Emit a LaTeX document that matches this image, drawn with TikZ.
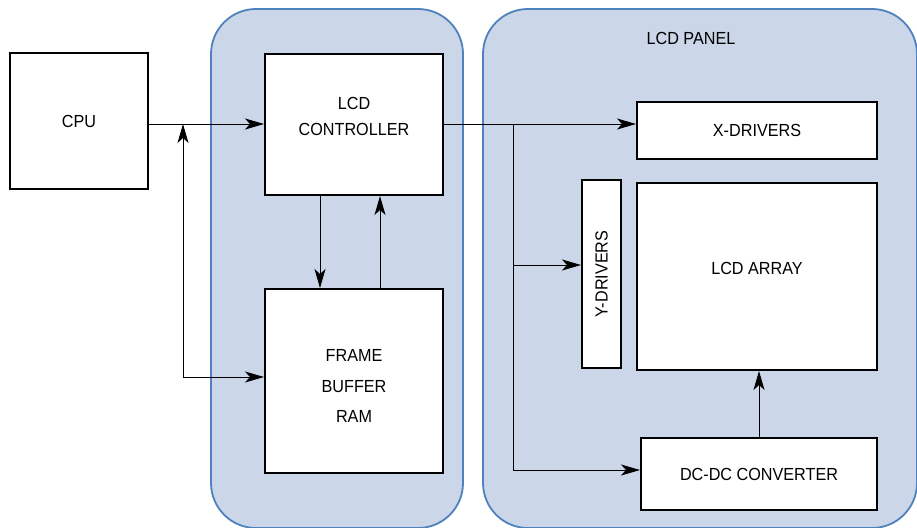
\documentclass[tikz,border=0pt]{standalone}
\usepackage{fontspec}
\setmainfont[FakeStretch=0.925]{Liberation Sans}
\usepackage{tikz}
\usetikzlibrary{arrows.meta}
\definecolor{cPanel}{RGB}{203,214,232}
\definecolor{cEdge}{RGB}{79,129,189}

\tikzset{
  blk/.style={draw=black,line width=2pt,fill=white,inner sep=0pt,font=\fontsize{17.5}{26}\selectfont},
  grp/.style={draw=cEdge,line width=1.8pt,fill=cPanel,rounded corners=45pt},
  lnk/.style={-{Stealth[length=19pt,width=11pt,inset=5pt]},line width=0.9pt},
}

\begin{document}
\begin{tikzpicture}[x=1pt,y=-1pt]
\useasboundingbox (0,0) rectangle (917,527);
\clip (0,0) rectangle (917,527);
% panels
\draw[grp] (211,9) rectangle (463,528);
\draw[grp] (483,9) rectangle (917,528);
\node[font=\fontsize{17.5}{20}\selectfont] (lbl) at (691,38) {LCD PANEL};
% blocks
\node[blk,minimum width=138pt,minimum height=136pt] (cpu) at (79,121) {CPU};
\node[blk,minimum width=178pt,minimum height=141pt] (ctrl) at (354,124.5) {\raisebox{3pt}[0pt][0pt]{\begin{tabular}{@{}c@{}}LCD\\CONTROLLER\end{tabular}}};
\node[blk,minimum width=178pt,minimum height=184pt,font=\fontsize{17.5}{30.5}\selectfont] (fb) at (354,381) {\raisebox{-9.5pt}[0pt][0pt]{\begin{tabular}{@{}c@{}}FRAME\\BUFFER\\RAM\end{tabular}}};
\node[blk,minimum width=240pt,minimum height=57pt] (xdrv) at (757,130.5) {X-DRIVERS};
\node[blk,minimum width=39pt,minimum height=188pt] (ydrv) at (601.5,274) {\raisebox{-6pt}{\rotatebox{90}{Y-DRIVERS}}};
\node[blk,minimum width=240pt,minimum height=187pt] (lcdarr) at (757,276.5) {\raisebox{16pt}{LCD ARRAY}};
\node[blk,minimum width=236pt,minimum height=72pt] (dcdc) at (759,474) {DC-DC CONVERTER};
% junctions
\coordinate (j1) at (183,124);
\coordinate (j2) at (513,124);
% links
\draw[lnk] (cpu.east |- j1) -- (ctrl.west |- j1);
\draw[{Stealth[length=19pt,width=11pt,inset=5pt]}-{Stealth[length=19pt,width=11pt,inset=5pt]},line width=0.9pt] (j1) |- ([yshift=4pt]fb.west);
\draw[lnk] ([xshift=-34pt]ctrl.south) -- ([xshift=-34pt]fb.north);
\draw[lnk] ([xshift=26pt]fb.north) -- ([xshift=26pt]ctrl.south);
\draw[lnk] (ctrl.east |- j2) -- (xdrv.west |- j2);
\draw[lnk] (j2) |- ([yshift=4pt]dcdc.west);
\draw[lnk] (j2 |- 0,265) -- (ydrv.west |- 0,265);
\draw[lnk] (dcdc.north) -- (dcdc.north |- lcdarr.south);
\end{tikzpicture}
\end{document}
